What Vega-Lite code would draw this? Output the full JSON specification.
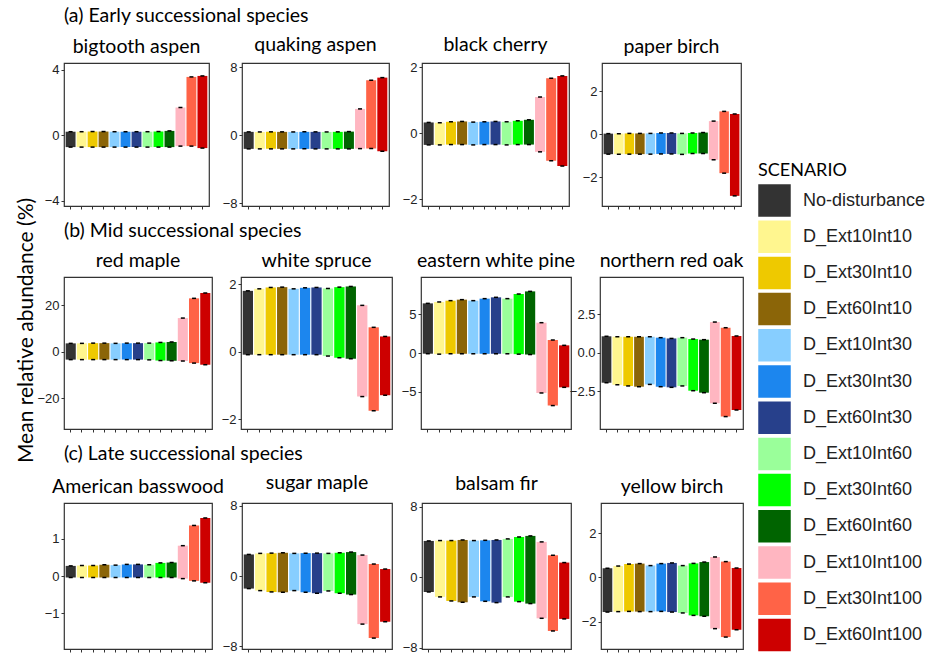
{
  "$schema": "https://vega.github.io/schema/vega-lite/v6.json",
  "padding": {"left": 16, "top": 5, "right": 5, "bottom": 5},
  "background": "white",
  "title": {"text": "Mean relative abundance (%)", "orient": "left", "anchor": "middle", "frame": "bounds", "fontSize": 21, "offset": -1},
  "datasets": {
    "d": [
      {"sp":"bigtooth aspen","s":"No-disturbance","lo":-0.72,"hi":0.22},
      {"sp":"bigtooth aspen","s":"D_Ext10Int10","lo":-0.72,"hi":0.22},
      {"sp":"bigtooth aspen","s":"D_Ext30Int10","lo":-0.72,"hi":0.23},
      {"sp":"bigtooth aspen","s":"D_Ext60Int10","lo":-0.72,"hi":0.23},
      {"sp":"bigtooth aspen","s":"D_Ext10Int30","lo":-0.72,"hi":0.22},
      {"sp":"bigtooth aspen","s":"D_Ext30Int30","lo":-0.72,"hi":0.22},
      {"sp":"bigtooth aspen","s":"D_Ext60Int30","lo":-0.72,"hi":0.22},
      {"sp":"bigtooth aspen","s":"D_Ext10Int60","lo":-0.72,"hi":0.22},
      {"sp":"bigtooth aspen","s":"D_Ext30Int60","lo":-0.72,"hi":0.23},
      {"sp":"bigtooth aspen","s":"D_Ext60Int60","lo":-0.72,"hi":0.27},
      {"sp":"bigtooth aspen","s":"D_Ext10Int100","lo":-0.66,"hi":1.7},
      {"sp":"bigtooth aspen","s":"D_Ext30Int100","lo":-0.66,"hi":3.57},
      {"sp":"bigtooth aspen","s":"D_Ext60Int100","lo":-0.78,"hi":3.63},

      {"sp":"quaking aspen","s":"No-disturbance","lo":-1.6,"hi":0.4},
      {"sp":"quaking aspen","s":"D_Ext10Int10","lo":-1.6,"hi":0.39},
      {"sp":"quaking aspen","s":"D_Ext30Int10","lo":-1.6,"hi":0.4},
      {"sp":"quaking aspen","s":"D_Ext60Int10","lo":-1.6,"hi":0.4},
      {"sp":"quaking aspen","s":"D_Ext10Int30","lo":-1.6,"hi":0.39},
      {"sp":"quaking aspen","s":"D_Ext30Int30","lo":-1.6,"hi":0.4},
      {"sp":"quaking aspen","s":"D_Ext60Int30","lo":-1.6,"hi":0.4},
      {"sp":"quaking aspen","s":"D_Ext10Int60","lo":-1.6,"hi":0.39},
      {"sp":"quaking aspen","s":"D_Ext30Int60","lo":-1.6,"hi":0.4},
      {"sp":"quaking aspen","s":"D_Ext60Int60","lo":-1.6,"hi":0.43},
      {"sp":"quaking aspen","s":"D_Ext10Int100","lo":-1.57,"hi":3.1},
      {"sp":"quaking aspen","s":"D_Ext30Int100","lo":-1.57,"hi":6.47},
      {"sp":"quaking aspen","s":"D_Ext60Int100","lo":-1.88,"hi":6.78},

      {"sp":"black cherry","s":"No-disturbance","lo":-0.35,"hi":0.33},
      {"sp":"black cherry","s":"D_Ext10Int10","lo":-0.35,"hi":0.32},
      {"sp":"black cherry","s":"D_Ext30Int10","lo":-0.34,"hi":0.35},
      {"sp":"black cherry","s":"D_Ext60Int10","lo":-0.34,"hi":0.36},
      {"sp":"black cherry","s":"D_Ext10Int30","lo":-0.35,"hi":0.34},
      {"sp":"black cherry","s":"D_Ext30Int30","lo":-0.34,"hi":0.35},
      {"sp":"black cherry","s":"D_Ext60Int30","lo":-0.34,"hi":0.36},
      {"sp":"black cherry","s":"D_Ext10Int60","lo":-0.35,"hi":0.35},
      {"sp":"black cherry","s":"D_Ext30Int60","lo":-0.34,"hi":0.38},
      {"sp":"black cherry","s":"D_Ext60Int60","lo":-0.34,"hi":0.41},
      {"sp":"black cherry","s":"D_Ext10Int100","lo":-0.56,"hi":1.1},
      {"sp":"black cherry","s":"D_Ext30Int100","lo":-0.83,"hi":1.67},
      {"sp":"black cherry","s":"D_Ext60Int100","lo":-0.99,"hi":1.74},

      {"sp":"paper birch","s":"No-disturbance","lo":-0.92,"hi":0.03},
      {"sp":"paper birch","s":"D_Ext10Int10","lo":-0.92,"hi":0.03},
      {"sp":"paper birch","s":"D_Ext30Int10","lo":-0.92,"hi":0.04},
      {"sp":"paper birch","s":"D_Ext60Int10","lo":-0.92,"hi":0.04},
      {"sp":"paper birch","s":"D_Ext10Int30","lo":-0.92,"hi":0.04},
      {"sp":"paper birch","s":"D_Ext30Int30","lo":-0.91,"hi":0.06},
      {"sp":"paper birch","s":"D_Ext60Int30","lo":-0.91,"hi":0.06},
      {"sp":"paper birch","s":"D_Ext10Int60","lo":-0.93,"hi":0.04},
      {"sp":"paper birch","s":"D_Ext30Int60","lo":-0.89,"hi":0.06},
      {"sp":"paper birch","s":"D_Ext60Int60","lo":-0.89,"hi":0.08},
      {"sp":"paper birch","s":"D_Ext10Int100","lo":-1.18,"hi":0.61},
      {"sp":"paper birch","s":"D_Ext30Int100","lo":-1.8,"hi":1.06},
      {"sp":"paper birch","s":"D_Ext60Int100","lo":-2.85,"hi":0.94},

      {"sp":"red maple","s":"No-disturbance","lo":-3.4,"hi":3.6},
      {"sp":"red maple","s":"D_Ext10Int10","lo":-3.4,"hi":3.6},
      {"sp":"red maple","s":"D_Ext30Int10","lo":-3.4,"hi":3.7},
      {"sp":"red maple","s":"D_Ext60Int10","lo":-3.4,"hi":3.7},
      {"sp":"red maple","s":"D_Ext10Int30","lo":-3.4,"hi":3.6},
      {"sp":"red maple","s":"D_Ext30Int30","lo":-3.4,"hi":3.7},
      {"sp":"red maple","s":"D_Ext60Int30","lo":-3.4,"hi":3.7},
      {"sp":"red maple","s":"D_Ext10Int60","lo":-3.5,"hi":3.7},
      {"sp":"red maple","s":"D_Ext30Int60","lo":-3.8,"hi":4.0},
      {"sp":"red maple","s":"D_Ext60Int60","lo":-3.9,"hi":4.2},
      {"sp":"red maple","s":"D_Ext10Int100","lo":-4.0,"hi":14.5},
      {"sp":"red maple","s":"D_Ext30Int100","lo":-4.9,"hi":23.0},
      {"sp":"red maple","s":"D_Ext60Int100","lo":-5.6,"hi":25.3},

      {"sp":"white spruce","s":"No-disturbance","lo":-0.09,"hi":1.8},
      {"sp":"white spruce","s":"D_Ext10Int10","lo":-0.09,"hi":1.86},
      {"sp":"white spruce","s":"D_Ext30Int10","lo":-0.09,"hi":1.9},
      {"sp":"white spruce","s":"D_Ext60Int10","lo":-0.09,"hi":1.91},
      {"sp":"white spruce","s":"D_Ext10Int30","lo":-0.09,"hi":1.86},
      {"sp":"white spruce","s":"D_Ext30Int30","lo":-0.09,"hi":1.89},
      {"sp":"white spruce","s":"D_Ext60Int30","lo":-0.09,"hi":1.9},
      {"sp":"white spruce","s":"D_Ext10Int60","lo":-0.13,"hi":1.87},
      {"sp":"white spruce","s":"D_Ext30Int60","lo":-0.18,"hi":1.91},
      {"sp":"white spruce","s":"D_Ext60Int60","lo":-0.21,"hi":1.93},
      {"sp":"white spruce","s":"D_Ext10Int100","lo":-1.33,"hi":1.37},
      {"sp":"white spruce","s":"D_Ext30Int100","lo":-1.75,"hi":0.72},
      {"sp":"white spruce","s":"D_Ext60Int100","lo":-1.29,"hi":0.45},

      {"sp":"eastern white pine","s":"No-disturbance","lo":-0.09,"hi":6.42},
      {"sp":"eastern white pine","s":"D_Ext10Int10","lo":-0.15,"hi":6.6},
      {"sp":"eastern white pine","s":"D_Ext30Int10","lo":-0.1,"hi":6.77},
      {"sp":"eastern white pine","s":"D_Ext60Int10","lo":-0.1,"hi":6.9},
      {"sp":"eastern white pine","s":"D_Ext10Int30","lo":-0.1,"hi":6.77},
      {"sp":"eastern white pine","s":"D_Ext30Int30","lo":-0.1,"hi":7.03},
      {"sp":"eastern white pine","s":"D_Ext60Int30","lo":-0.1,"hi":7.2},
      {"sp":"eastern white pine","s":"D_Ext10Int60","lo":-0.1,"hi":7.03},
      {"sp":"eastern white pine","s":"D_Ext30Int60","lo":-0.15,"hi":7.63},
      {"sp":"eastern white pine","s":"D_Ext60Int60","lo":-0.2,"hi":7.97},
      {"sp":"eastern white pine","s":"D_Ext10Int100","lo":-5.17,"hi":3.92},
      {"sp":"eastern white pine","s":"D_Ext30Int100","lo":-6.8,"hi":1.68},
      {"sp":"eastern white pine","s":"D_Ext60Int100","lo":-4.44,"hi":0.99},

      {"sp":"northern red oak","s":"No-disturbance","lo":-1.96,"hi":1.07},
      {"sp":"northern red oak","s":"D_Ext10Int10","lo":-2.09,"hi":1.04},
      {"sp":"northern red oak","s":"D_Ext30Int10","lo":-2.17,"hi":1.04},
      {"sp":"northern red oak","s":"D_Ext60Int10","lo":-2.22,"hi":1.04},
      {"sp":"northern red oak","s":"D_Ext10Int30","lo":-2.07,"hi":1.04},
      {"sp":"northern red oak","s":"D_Ext30Int30","lo":-2.22,"hi":0.98},
      {"sp":"northern red oak","s":"D_Ext60Int30","lo":-2.26,"hi":0.93},
      {"sp":"northern red oak","s":"D_Ext10Int60","lo":-2.17,"hi":0.98},
      {"sp":"northern red oak","s":"D_Ext30Int60","lo":-2.48,"hi":0.89},
      {"sp":"northern red oak","s":"D_Ext60Int60","lo":-2.61,"hi":0.85},
      {"sp":"northern red oak","s":"D_Ext10Int100","lo":-3.3,"hi":2.0},
      {"sp":"northern red oak","s":"D_Ext30Int100","lo":-4.17,"hi":1.63},
      {"sp":"northern red oak","s":"D_Ext60Int100","lo":-3.74,"hi":1.09},

      {"sp":"American basswood","s":"No-disturbance","lo":-0.04,"hi":0.27},
      {"sp":"American basswood","s":"D_Ext10Int10","lo":-0.04,"hi":0.28},
      {"sp":"American basswood","s":"D_Ext30Int10","lo":-0.04,"hi":0.28},
      {"sp":"American basswood","s":"D_Ext60Int10","lo":-0.04,"hi":0.3},
      {"sp":"American basswood","s":"D_Ext10Int30","lo":-0.04,"hi":0.29},
      {"sp":"American basswood","s":"D_Ext30Int30","lo":-0.04,"hi":0.31},
      {"sp":"American basswood","s":"D_Ext60Int30","lo":-0.04,"hi":0.31},
      {"sp":"American basswood","s":"D_Ext10Int60","lo":-0.04,"hi":0.3},
      {"sp":"American basswood","s":"D_Ext30Int60","lo":-0.04,"hi":0.35},
      {"sp":"American basswood","s":"D_Ext60Int60","lo":-0.04,"hi":0.36},
      {"sp":"American basswood","s":"D_Ext10Int100","lo":-0.07,"hi":0.81},
      {"sp":"American basswood","s":"D_Ext30Int100","lo":-0.13,"hi":1.35},
      {"sp":"American basswood","s":"D_Ext60Int100","lo":-0.18,"hi":1.55},

      {"sp":"sugar maple","s":"No-disturbance","lo":-1.43,"hi":2.45},
      {"sp":"sugar maple","s":"D_Ext10Int10","lo":-1.66,"hi":2.57},
      {"sp":"sugar maple","s":"D_Ext30Int10","lo":-1.81,"hi":2.6},
      {"sp":"sugar maple","s":"D_Ext60Int10","lo":-1.85,"hi":2.64},
      {"sp":"sugar maple","s":"D_Ext10Int30","lo":-1.66,"hi":2.57},
      {"sp":"sugar maple","s":"D_Ext30Int30","lo":-1.85,"hi":2.6},
      {"sp":"sugar maple","s":"D_Ext60Int30","lo":-1.96,"hi":2.6},
      {"sp":"sugar maple","s":"D_Ext10Int60","lo":-1.7,"hi":2.57},
      {"sp":"sugar maple","s":"D_Ext30Int60","lo":-1.96,"hi":2.64},
      {"sp":"sugar maple","s":"D_Ext60Int60","lo":-2.11,"hi":2.72},
      {"sp":"sugar maple","s":"D_Ext10Int100","lo":-5.47,"hi":2.38},
      {"sp":"sugar maple","s":"D_Ext30Int100","lo":-7.06,"hi":1.36},
      {"sp":"sugar maple","s":"D_Ext60Int100","lo":-5.2,"hi":0.79},

      {"sp":"balsam fir","s":"No-disturbance","lo":-1.67,"hi":4.13},
      {"sp":"balsam fir","s":"D_Ext10Int10","lo":-2.23,"hi":4.17},
      {"sp":"balsam fir","s":"D_Ext30Int10","lo":-2.69,"hi":4.17},
      {"sp":"balsam fir","s":"D_Ext60Int10","lo":-2.84,"hi":4.24},
      {"sp":"balsam fir","s":"D_Ext10Int30","lo":-2.23,"hi":4.17},
      {"sp":"balsam fir","s":"D_Ext30Int30","lo":-2.73,"hi":4.2},
      {"sp":"balsam fir","s":"D_Ext60Int30","lo":-2.88,"hi":4.24},
      {"sp":"balsam fir","s":"D_Ext10Int60","lo":-2.23,"hi":4.36},
      {"sp":"balsam fir","s":"D_Ext30Int60","lo":-2.77,"hi":4.58},
      {"sp":"balsam fir","s":"D_Ext60Int60","lo":-2.99,"hi":4.7},
      {"sp":"balsam fir","s":"D_Ext10Int100","lo":-4.66,"hi":4.02},
      {"sp":"balsam fir","s":"D_Ext30Int100","lo":-6.1,"hi":2.5},
      {"sp":"balsam fir","s":"D_Ext60Int100","lo":-4.73,"hi":1.67},

      {"sp":"yellow birch","s":"No-disturbance","lo":-1.57,"hi":0.41},
      {"sp":"yellow birch","s":"D_Ext10Int10","lo":-1.55,"hi":0.51},
      {"sp":"yellow birch","s":"D_Ext30Int10","lo":-1.54,"hi":0.6},
      {"sp":"yellow birch","s":"D_Ext60Int10","lo":-1.55,"hi":0.62},
      {"sp":"yellow birch","s":"D_Ext10Int30","lo":-1.55,"hi":0.53},
      {"sp":"yellow birch","s":"D_Ext30Int30","lo":-1.54,"hi":0.62},
      {"sp":"yellow birch","s":"D_Ext60Int30","lo":-1.57,"hi":0.65},
      {"sp":"yellow birch","s":"D_Ext10Int60","lo":-1.61,"hi":0.53},
      {"sp":"yellow birch","s":"D_Ext30Int60","lo":-1.72,"hi":0.63},
      {"sp":"yellow birch","s":"D_Ext60Int60","lo":-1.76,"hi":0.69},
      {"sp":"yellow birch","s":"D_Ext10Int100","lo":-2.32,"hi":0.92},
      {"sp":"yellow birch","s":"D_Ext30Int100","lo":-2.7,"hi":0.71},
      {"sp":"yellow birch","s":"D_Ext60Int100","lo":-2.37,"hi":0.42}
    ]
  },
  "data": {"name": "d"},
  "bounds": "full",
  "spacing": 10,
  "vconcat": [
    {
      "title": {"text": "(a) Early successional species", "anchor": "start", "frame": "group", "fontSize": 19.5, "offset": 8},
      "bounds": "flush",
      "spacing": 33,
      "hconcat": [
        {"width": 145, "height": 143, "title": "bigtooth aspen",
         "transform": [{"filter": "datum.sp == 'bigtooth aspen'"}],
         "encoding": {"x": {"field": "s", "type": "nominal", "sort": null, "title": null, "scale": {"paddingInner": 0.1, "paddingOuter": 0.15}}},
         "layer": [
          {"mark": {"type": "bar"}, "encoding": {"y": {"field": "lo", "type": "quantitative", "title": null, "scale": {"domain": [-4.32, 4.42], "nice": false, "zero": false}, "axis": {"values": [-4, -2, 0, 2, 4], "minExtent": 27}}, "y2": {"field": "hi"}, "color": {"field": "s", "type": "nominal", "title": "SCENARIO", "scale": {"domain": ["No-disturbance","D_Ext10Int10","D_Ext30Int10","D_Ext60Int10","D_Ext10Int30","D_Ext30Int30","D_Ext60Int30","D_Ext10Int60","D_Ext30Int60","D_Ext60Int60","D_Ext10Int100","D_Ext30Int100","D_Ext60Int100"], "range": ["#333333","#FFF68F","#EEC900","#8B6508","#87CEFF","#1C86EE","#27408B","#9AFF9A","#00FF00","#006400","#FFB6C1","#FF6347","#CD0000"]}}}},
          {"mark": {"type": "tick", "color": "black", "size": 4, "thickness": 1.5, "opacity": 1}, "encoding": {"y": {"field": "hi", "type": "quantitative", "title": null}}},
          {"mark": {"type": "tick", "color": "black", "size": 4, "thickness": 1.5, "opacity": 1}, "encoding": {"y": {"field": "lo", "type": "quantitative", "title": null}}},
          {"mark": {"type": "rule", "color": "black", "strokeWidth": 1}, "encoding": {"y": {"datum": 0, "type": "quantitative", "title": null}}}
         ]},
        {"width": 147, "height": 143, "title": "quaking aspen",
         "transform": [{"filter": "datum.sp == 'quaking aspen'"}],
         "encoding": {"x": {"field": "s", "type": "nominal", "sort": null, "title": null, "scale": {"paddingInner": 0.1, "paddingOuter": 0.15}}},
         "layer": [
          {"mark": {"type": "bar"}, "encoding": {"y": {"field": "lo", "type": "quantitative", "title": null, "scale": {"domain": [-8.32, 8.5], "nice": false, "zero": false}, "axis": {"values": [-8, -4, 0, 4, 8]}}, "y2": {"field": "hi"}, "color": {"field": "s", "type": "nominal", "title": "SCENARIO", "scale": {"domain": ["No-disturbance","D_Ext10Int10","D_Ext30Int10","D_Ext60Int10","D_Ext10Int30","D_Ext30Int30","D_Ext60Int30","D_Ext10Int60","D_Ext30Int60","D_Ext60Int60","D_Ext10Int100","D_Ext30Int100","D_Ext60Int100"], "range": ["#333333","#FFF68F","#EEC900","#8B6508","#87CEFF","#1C86EE","#27408B","#9AFF9A","#00FF00","#006400","#FFB6C1","#FF6347","#CD0000"]}}}},
          {"mark": {"type": "tick", "color": "black", "size": 4, "thickness": 1.5, "opacity": 1}, "encoding": {"y": {"field": "hi", "type": "quantitative", "title": null}}},
          {"mark": {"type": "tick", "color": "black", "size": 4, "thickness": 1.5, "opacity": 1}, "encoding": {"y": {"field": "lo", "type": "quantitative", "title": null}}},
          {"mark": {"type": "rule", "color": "black", "strokeWidth": 1}, "encoding": {"y": {"datum": 0, "type": "quantitative", "title": null}}}
         ]},
        {"width": 147, "height": 143, "title": "black cherry",
         "transform": [{"filter": "datum.sp == 'black cherry'"}],
         "encoding": {"x": {"field": "s", "type": "nominal", "sort": null, "title": null, "scale": {"paddingInner": 0.1, "paddingOuter": 0.15}}},
         "layer": [
          {"mark": {"type": "bar"}, "encoding": {"y": {"field": "lo", "type": "quantitative", "title": null, "scale": {"domain": [-2.2, 2.13], "nice": false, "zero": false}, "axis": {"values": [-2, -1, 0, 1, 2]}}, "y2": {"field": "hi"}, "color": {"field": "s", "type": "nominal", "title": "SCENARIO", "scale": {"domain": ["No-disturbance","D_Ext10Int10","D_Ext30Int10","D_Ext60Int10","D_Ext10Int30","D_Ext30Int30","D_Ext60Int30","D_Ext10Int60","D_Ext30Int60","D_Ext60Int60","D_Ext10Int100","D_Ext30Int100","D_Ext60Int100"], "range": ["#333333","#FFF68F","#EEC900","#8B6508","#87CEFF","#1C86EE","#27408B","#9AFF9A","#00FF00","#006400","#FFB6C1","#FF6347","#CD0000"]}}}},
          {"mark": {"type": "tick", "color": "black", "size": 4, "thickness": 1.5, "opacity": 1}, "encoding": {"y": {"field": "hi", "type": "quantitative", "title": null}}},
          {"mark": {"type": "tick", "color": "black", "size": 4, "thickness": 1.5, "opacity": 1}, "encoding": {"y": {"field": "lo", "type": "quantitative", "title": null}}},
          {"mark": {"type": "rule", "color": "black", "strokeWidth": 1}, "encoding": {"y": {"datum": 0, "type": "quantitative", "title": null}}}
         ]},
        {"width": 139, "height": 143, "title": "paper birch",
         "transform": [{"filter": "datum.sp == 'paper birch'"}],
         "encoding": {"x": {"field": "s", "type": "nominal", "sort": null, "title": null, "scale": {"paddingInner": 0.1, "paddingOuter": 0.15}}},
         "layer": [
          {"mark": {"type": "bar"}, "encoding": {"y": {"field": "lo", "type": "quantitative", "title": null, "scale": {"domain": [-3.32, 3.3], "nice": false, "zero": false}, "axis": {"values": [-2, 0, 2]}}, "y2": {"field": "hi"}, "color": {"field": "s", "type": "nominal", "title": "SCENARIO", "scale": {"domain": ["No-disturbance","D_Ext10Int10","D_Ext30Int10","D_Ext60Int10","D_Ext10Int30","D_Ext30Int30","D_Ext60Int30","D_Ext10Int60","D_Ext30Int60","D_Ext60Int60","D_Ext10Int100","D_Ext30Int100","D_Ext60Int100"], "range": ["#333333","#FFF68F","#EEC900","#8B6508","#87CEFF","#1C86EE","#27408B","#9AFF9A","#00FF00","#006400","#FFB6C1","#FF6347","#CD0000"]}}}},
          {"mark": {"type": "tick", "color": "black", "size": 4, "thickness": 1.5, "opacity": 1}, "encoding": {"y": {"field": "hi", "type": "quantitative", "title": null}}},
          {"mark": {"type": "tick", "color": "black", "size": 4, "thickness": 1.5, "opacity": 1}, "encoding": {"y": {"field": "lo", "type": "quantitative", "title": null}}},
          {"mark": {"type": "rule", "color": "black", "strokeWidth": 1}, "encoding": {"y": {"datum": 0, "type": "quantitative", "title": null}}}
         ]}
      ]
    },
    {
      "title": {"text": "(b) Mid successional species", "anchor": "start", "frame": "group", "fontSize": 19.5, "offset": 8},
      "bounds": "flush",
      "spacing": 29,
      "hconcat": [
        {"width": 148, "height": 152, "title": "red maple",
         "transform": [{"filter": "datum.sp == 'red maple'"}],
         "encoding": {"x": {"field": "s", "type": "nominal", "sort": null, "title": null, "scale": {"paddingInner": 0.1, "paddingOuter": 0.15}}},
         "layer": [
          {"mark": {"type": "bar"}, "encoding": {"y": {"field": "lo", "type": "quantitative", "title": null, "scale": {"domain": [-33.3, 32.2], "nice": false, "zero": false}, "axis": {"values": [-20, 0, 20], "minExtent": 27}}, "y2": {"field": "hi"}, "color": {"field": "s", "type": "nominal", "title": "SCENARIO", "scale": {"domain": ["No-disturbance","D_Ext10Int10","D_Ext30Int10","D_Ext60Int10","D_Ext10Int30","D_Ext30Int30","D_Ext60Int30","D_Ext10Int60","D_Ext30Int60","D_Ext60Int60","D_Ext10Int100","D_Ext30Int100","D_Ext60Int100"], "range": ["#333333","#FFF68F","#EEC900","#8B6508","#87CEFF","#1C86EE","#27408B","#9AFF9A","#00FF00","#006400","#FFB6C1","#FF6347","#CD0000"]}}}},
          {"mark": {"type": "tick", "color": "black", "size": 4, "thickness": 1.5, "opacity": 1}, "encoding": {"y": {"field": "hi", "type": "quantitative", "title": null}}},
          {"mark": {"type": "tick", "color": "black", "size": 4, "thickness": 1.5, "opacity": 1}, "encoding": {"y": {"field": "lo", "type": "quantitative", "title": null}}},
          {"mark": {"type": "rule", "color": "black", "strokeWidth": 1}, "encoding": {"y": {"datum": 0, "type": "quantitative", "title": null}}}
         ]},
        {"width": 151, "height": 152, "title": "white spruce",
         "transform": [{"filter": "datum.sp == 'white spruce'"}],
         "encoding": {"x": {"field": "s", "type": "nominal", "sort": null, "title": null, "scale": {"paddingInner": 0.1, "paddingOuter": 0.15}}},
         "layer": [
          {"mark": {"type": "bar"}, "encoding": {"y": {"field": "lo", "type": "quantitative", "title": null, "scale": {"domain": [-2.29, 2.21], "nice": false, "zero": false}, "axis": {"values": [-2, -1, 0, 1, 2]}}, "y2": {"field": "hi"}, "color": {"field": "s", "type": "nominal", "title": "SCENARIO", "scale": {"domain": ["No-disturbance","D_Ext10Int10","D_Ext30Int10","D_Ext60Int10","D_Ext10Int30","D_Ext30Int30","D_Ext60Int30","D_Ext10Int60","D_Ext30Int60","D_Ext60Int60","D_Ext10Int100","D_Ext30Int100","D_Ext60Int100"], "range": ["#333333","#FFF68F","#EEC900","#8B6508","#87CEFF","#1C86EE","#27408B","#9AFF9A","#00FF00","#006400","#FFB6C1","#FF6347","#CD0000"]}}}},
          {"mark": {"type": "tick", "color": "black", "size": 4, "thickness": 1.5, "opacity": 1}, "encoding": {"y": {"field": "hi", "type": "quantitative", "title": null}}},
          {"mark": {"type": "tick", "color": "black", "size": 4, "thickness": 1.5, "opacity": 1}, "encoding": {"y": {"field": "lo", "type": "quantitative", "title": null}}},
          {"mark": {"type": "rule", "color": "black", "strokeWidth": 1}, "encoding": {"y": {"datum": 0, "type": "quantitative", "title": null}}}
         ]},
        {"width": 150, "height": 152, "title": "eastern white pine",
         "transform": [{"filter": "datum.sp == 'eastern white pine'"}],
         "encoding": {"x": {"field": "s", "type": "nominal", "sort": null, "title": null, "scale": {"paddingInner": 0.1, "paddingOuter": 0.15}}},
         "layer": [
          {"mark": {"type": "bar"}, "encoding": {"y": {"field": "lo", "type": "quantitative", "title": null, "scale": {"domain": [-9.83, 9.83], "nice": false, "zero": false}, "axis": {"values": [-5, 0, 5]}}, "y2": {"field": "hi"}, "color": {"field": "s", "type": "nominal", "title": "SCENARIO", "scale": {"domain": ["No-disturbance","D_Ext10Int10","D_Ext30Int10","D_Ext60Int10","D_Ext10Int30","D_Ext30Int30","D_Ext60Int30","D_Ext10Int60","D_Ext30Int60","D_Ext60Int60","D_Ext10Int100","D_Ext30Int100","D_Ext60Int100"], "range": ["#333333","#FFF68F","#EEC900","#8B6508","#87CEFF","#1C86EE","#27408B","#9AFF9A","#00FF00","#006400","#FFB6C1","#FF6347","#CD0000"]}}}},
          {"mark": {"type": "tick", "color": "black", "size": 4, "thickness": 1.5, "opacity": 1}, "encoding": {"y": {"field": "hi", "type": "quantitative", "title": null}}},
          {"mark": {"type": "tick", "color": "black", "size": 4, "thickness": 1.5, "opacity": 1}, "encoding": {"y": {"field": "lo", "type": "quantitative", "title": null}}},
          {"mark": {"type": "rule", "color": "black", "strokeWidth": 1}, "encoding": {"y": {"datum": 0, "type": "quantitative", "title": null}}}
         ]},
        {"width": 143, "height": 152, "title": "northern red oak",
         "transform": [{"filter": "datum.sp == 'northern red oak'"}],
         "encoding": {"x": {"field": "s", "type": "nominal", "sort": null, "title": null, "scale": {"paddingInner": 0.1, "paddingOuter": 0.15}}},
         "layer": [
          {"mark": {"type": "bar"}, "encoding": {"y": {"field": "lo", "type": "quantitative", "title": null, "scale": {"domain": [-4.98, 4.94], "nice": false, "zero": false}, "axis": {"values": [-2.5, 0, 2.5], "format": ".1f"}}, "y2": {"field": "hi"}, "color": {"field": "s", "type": "nominal", "title": "SCENARIO", "scale": {"domain": ["No-disturbance","D_Ext10Int10","D_Ext30Int10","D_Ext60Int10","D_Ext10Int30","D_Ext30Int30","D_Ext60Int30","D_Ext10Int60","D_Ext30Int60","D_Ext60Int60","D_Ext10Int100","D_Ext30Int100","D_Ext60Int100"], "range": ["#333333","#FFF68F","#EEC900","#8B6508","#87CEFF","#1C86EE","#27408B","#9AFF9A","#00FF00","#006400","#FFB6C1","#FF6347","#CD0000"]}}}},
          {"mark": {"type": "tick", "color": "black", "size": 4, "thickness": 1.5, "opacity": 1}, "encoding": {"y": {"field": "hi", "type": "quantitative", "title": null}}},
          {"mark": {"type": "tick", "color": "black", "size": 4, "thickness": 1.5, "opacity": 1}, "encoding": {"y": {"field": "lo", "type": "quantitative", "title": null}}},
          {"mark": {"type": "rule", "color": "black", "strokeWidth": 1}, "encoding": {"y": {"datum": 0, "type": "quantitative", "title": null}}}
         ]}
      ]
    },
    {
      "title": {"text": "(c) Late successional species", "anchor": "start", "frame": "group", "fontSize": 19.5, "offset": 8},
      "bounds": "flush",
      "spacing": 30,
      "hconcat": [
        {"width": 148, "height": 146, "title": "American basswood",
         "transform": [{"filter": "datum.sp == 'American basswood'"}],
         "encoding": {"x": {"field": "s", "type": "nominal", "sort": null, "title": null, "scale": {"paddingInner": 0.1, "paddingOuter": 0.15}}},
         "layer": [
          {"mark": {"type": "bar"}, "encoding": {"y": {"field": "lo", "type": "quantitative", "title": null, "scale": {"domain": [-1.95, 1.95], "nice": false, "zero": false}, "axis": {"values": [-1, 0, 1], "minExtent": 27}}, "y2": {"field": "hi"}, "color": {"field": "s", "type": "nominal", "title": "SCENARIO", "scale": {"domain": ["No-disturbance","D_Ext10Int10","D_Ext30Int10","D_Ext60Int10","D_Ext10Int30","D_Ext30Int30","D_Ext60Int30","D_Ext10Int60","D_Ext30Int60","D_Ext60Int60","D_Ext10Int100","D_Ext30Int100","D_Ext60Int100"], "range": ["#333333","#FFF68F","#EEC900","#8B6508","#87CEFF","#1C86EE","#27408B","#9AFF9A","#00FF00","#006400","#FFB6C1","#FF6347","#CD0000"]}}}},
          {"mark": {"type": "tick", "color": "black", "size": 4, "thickness": 1.5, "opacity": 1}, "encoding": {"y": {"field": "hi", "type": "quantitative", "title": null}}},
          {"mark": {"type": "tick", "color": "black", "size": 4, "thickness": 1.5, "opacity": 1}, "encoding": {"y": {"field": "lo", "type": "quantitative", "title": null}}},
          {"mark": {"type": "rule", "color": "black", "strokeWidth": 1}, "encoding": {"y": {"datum": 0, "type": "quantitative", "title": null}}}
         ]},
        {"width": 150, "height": 146, "title": "sugar maple",
         "transform": [{"filter": "datum.sp == 'sugar maple'"}],
         "encoding": {"x": {"field": "s", "type": "nominal", "sort": null, "title": null, "scale": {"paddingInner": 0.1, "paddingOuter": 0.15}}},
         "layer": [
          {"mark": {"type": "bar"}, "encoding": {"y": {"field": "lo", "type": "quantitative", "title": null, "scale": {"domain": [-8.3, 8.3], "nice": false, "zero": false}, "axis": {"values": [-8, -4, 0, 4, 8]}}, "y2": {"field": "hi"}, "color": {"field": "s", "type": "nominal", "title": "SCENARIO", "scale": {"domain": ["No-disturbance","D_Ext10Int10","D_Ext30Int10","D_Ext60Int10","D_Ext10Int30","D_Ext30Int30","D_Ext60Int30","D_Ext10Int60","D_Ext30Int60","D_Ext60Int60","D_Ext10Int100","D_Ext30Int100","D_Ext60Int100"], "range": ["#333333","#FFF68F","#EEC900","#8B6508","#87CEFF","#1C86EE","#27408B","#9AFF9A","#00FF00","#006400","#FFB6C1","#FF6347","#CD0000"]}}}},
          {"mark": {"type": "tick", "color": "black", "size": 4, "thickness": 1.5, "opacity": 1}, "encoding": {"y": {"field": "hi", "type": "quantitative", "title": null}}},
          {"mark": {"type": "tick", "color": "black", "size": 4, "thickness": 1.5, "opacity": 1}, "encoding": {"y": {"field": "lo", "type": "quantitative", "title": null}}},
          {"mark": {"type": "rule", "color": "black", "strokeWidth": 1}, "encoding": {"y": {"datum": 0, "type": "quantitative", "title": null}}}
         ]},
        {"width": 149, "height": 146, "title": "balsam fir",
         "transform": [{"filter": "datum.sp == 'balsam fir'"}],
         "encoding": {"x": {"field": "s", "type": "nominal", "sort": null, "title": null, "scale": {"paddingInner": 0.1, "paddingOuter": 0.15}}},
         "layer": [
          {"mark": {"type": "bar"}, "encoding": {"y": {"field": "lo", "type": "quantitative", "title": null, "scale": {"domain": [-8.15, 8.44], "nice": false, "zero": false}, "axis": {"values": [-8, -4, 0, 4, 8]}}, "y2": {"field": "hi"}, "color": {"field": "s", "type": "nominal", "title": "SCENARIO", "scale": {"domain": ["No-disturbance","D_Ext10Int10","D_Ext30Int10","D_Ext60Int10","D_Ext10Int30","D_Ext30Int30","D_Ext60Int30","D_Ext10Int60","D_Ext30Int60","D_Ext60Int60","D_Ext10Int100","D_Ext30Int100","D_Ext60Int100"], "range": ["#333333","#FFF68F","#EEC900","#8B6508","#87CEFF","#1C86EE","#27408B","#9AFF9A","#00FF00","#006400","#FFB6C1","#FF6347","#CD0000"]}}}},
          {"mark": {"type": "tick", "color": "black", "size": 4, "thickness": 1.5, "opacity": 1}, "encoding": {"y": {"field": "hi", "type": "quantitative", "title": null}}},
          {"mark": {"type": "tick", "color": "black", "size": 4, "thickness": 1.5, "opacity": 1}, "encoding": {"y": {"field": "lo", "type": "quantitative", "title": null}}},
          {"mark": {"type": "rule", "color": "black", "strokeWidth": 1}, "encoding": {"y": {"datum": 0, "type": "quantitative", "title": null}}}
         ]},
        {"width": 142, "height": 146, "title": "yellow birch",
         "transform": [{"filter": "datum.sp == 'yellow birch'"}],
         "encoding": {"x": {"field": "s", "type": "nominal", "sort": null, "title": null, "scale": {"paddingInner": 0.1, "paddingOuter": 0.15}}},
         "layer": [
          {"mark": {"type": "bar"}, "encoding": {"y": {"field": "lo", "type": "quantitative", "title": null, "scale": {"domain": [-3.24, 3.36], "nice": false, "zero": false}, "axis": {"values": [-2, 0, 2]}}, "y2": {"field": "hi"}, "color": {"field": "s", "type": "nominal", "title": "SCENARIO", "scale": {"domain": ["No-disturbance","D_Ext10Int10","D_Ext30Int10","D_Ext60Int10","D_Ext10Int30","D_Ext30Int30","D_Ext60Int30","D_Ext10Int60","D_Ext30Int60","D_Ext60Int60","D_Ext10Int100","D_Ext30Int100","D_Ext60Int100"], "range": ["#333333","#FFF68F","#EEC900","#8B6508","#87CEFF","#1C86EE","#27408B","#9AFF9A","#00FF00","#006400","#FFB6C1","#FF6347","#CD0000"]}}}},
          {"mark": {"type": "tick", "color": "black", "size": 4, "thickness": 1.5, "opacity": 1}, "encoding": {"y": {"field": "hi", "type": "quantitative", "title": null}}},
          {"mark": {"type": "tick", "color": "black", "size": 4, "thickness": 1.5, "opacity": 1}, "encoding": {"y": {"field": "lo", "type": "quantitative", "title": null}}},
          {"mark": {"type": "rule", "color": "black", "strokeWidth": 1}, "encoding": {"y": {"datum": 0, "type": "quantitative", "title": null}}}
         ]}
      ]
    }
  ],
  "config": {
    "font": "Lato",
    "view": {"stroke": "#333333", "strokeWidth": 1.2},
    "title": {"font": "Lato", "fontSize": 19.5, "fontWeight": "normal", "color": "black", "anchor": "middle", "frame": "group", "offset": 6},
    "axisY": {"labelFont": "Liberation Sans", "labelFontSize": 13, "labelColor": "#222222", "tickColor": "#333333", "tickSize": 3, "labelPadding": 2, "domain": false, "grid": false},
    "axisX": {"labels": false, "domain": false, "grid": false, "tickSize": 3, "tickColor": "#333333", "bandPosition": 0.5},
    "bar": {"opacity": 1},
    "legend": {"orient": "none", "legendX": 694, "legendY": 99, "symbolType": "square", "symbolSize": 1056, "symbolStrokeWidth": 0, "symbolOpacity": 1, "rowPadding": 3.2, "labelFont": "Liberation Sans", "labelFontSize": 18, "labelColor": "#222222", "labelOffset": 12, "labelLimit": 300, "titleFont": "Lato", "titleFontSize": 18, "titleFontWeight": "normal", "titleColor": "black", "titlePadding": 4}
  }
}
